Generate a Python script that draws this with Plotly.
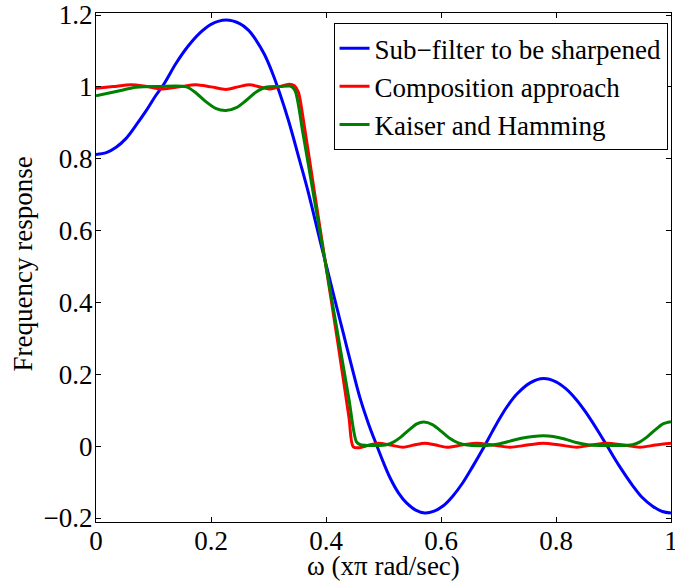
import plotly.graph_objects as go

# Blue: sub-filter to be sharpened
w_blue = [0.000, 0.018, 0.035, 0.052, 0.070, 0.087, 0.104, 0.119, 0.139, 0.160,
          0.180, 0.200, 0.226, 0.250, 0.265, 0.278, 0.293, 0.307, 0.320, 0.335,
          0.355, 0.368, 0.380, 0.390, 0.401, 0.415, 0.430, 0.445, 0.459, 0.474,
          0.488, 0.500, 0.512, 0.526, 0.540, 0.556, 0.572, 0.588, 0.604, 0.620,
          0.637, 0.655, 0.672, 0.688, 0.703, 0.718, 0.732, 0.755, 0.778, 0.800,
          0.817, 0.835, 0.852, 0.870, 0.888, 0.910, 0.933, 0.950, 0.968, 0.985,
          1.000]
h_blue = [0.812, 0.817, 0.832, 0.856, 0.894, 0.933, 0.976, 1.010, 1.065, 1.113,
          1.149, 1.174, 1.186, 1.176, 1.158, 1.131, 1.090, 1.038, 0.980, 0.905,
          0.790, 0.714, 0.636, 0.570, 0.500, 0.410, 0.315, 0.220, 0.135, 0.062,
          0.003, -0.046, -0.090, -0.130, -0.158, -0.178, -0.186, -0.181, -0.166, -0.140,
          -0.104, -0.057, -0.010, 0.037, 0.080, 0.117, 0.145, 0.176, 0.188, 0.179,
          0.160, 0.130, 0.094, 0.050, 0.003, -0.055, -0.109, -0.143, -0.167, -0.182,
          -0.186]

# Red: composition approach
w_red = [0.000, 0.030, 0.061, 0.088, 0.116, 0.145, 0.174, 0.200, 0.226, 0.247,
         0.267, 0.285, 0.301, 0.318, 0.336, 0.345, 0.352, 0.360, 0.380, 0.400,
         0.420, 0.440, 0.4475, 0.460, 0.475, 0.491, 0.512, 0.534, 0.553, 0.572,
         0.591, 0.610, 0.636, 0.662, 0.690, 0.720, 0.750, 0.778, 0.807, 0.836,
         0.862, 0.888, 0.917, 0.946, 0.973, 1.000]
h_red = [0.996, 1.001, 1.006, 1.001, 0.994, 1.000, 1.006, 1.000, 0.993, 1.000,
         1.006, 1.000, 0.994, 1.000, 1.007, 1.003, 0.985, 0.915, 0.706, 0.500,
         0.294, 0.080, -0.002, -0.004, 0.003, 0.008, 0.003, -0.003, 0.003, 0.008,
         0.003, -0.003, 0.003, 0.008, 0.003, -0.003, 0.003, 0.008, 0.003, -0.003,
         0.003, 0.008, 0.003, -0.003, 0.003, 0.008]

# Green: Kaiser and Hamming
w_green = [0.000, 0.035, 0.070, 0.110, 0.157, 0.174, 0.191, 0.208, 0.226, 0.244,
           0.261, 0.278, 0.295, 0.320, 0.338, 0.346, 0.360, 0.380, 0.400, 0.420,
           0.440, 0.453, 0.460, 0.475, 0.490, 0.505, 0.518, 0.530, 0.545, 0.558,
           0.570, 0.585, 0.600, 0.615, 0.630, 0.645, 0.680, 0.700, 0.720, 0.740,
           0.760, 0.778, 0.795, 0.815, 0.835, 0.855, 0.875, 0.900, 0.933, 0.946,
           0.958, 0.973, 0.986, 1.000]
h_green = [0.975, 0.987, 0.999, 1.001, 1.000, 0.983, 0.959, 0.940, 0.934, 0.942,
           0.962, 0.985, 0.999, 1.001, 1.002, 0.990, 0.870, 0.684, 0.500, 0.316,
           0.130, 0.012, 0.004, 0.002, 0.002, 0.004, 0.012, 0.025, 0.046, 0.062,
           0.067, 0.060, 0.042, 0.022, 0.009, 0.003, 0.002, 0.006, 0.014, 0.022,
           0.027, 0.029, 0.027, 0.020, 0.010, 0.004, 0.002, 0.002, 0.004, 0.012,
           0.025, 0.046, 0.062, 0.068]

x_ticks = [0, 0.2, 0.4, 0.6, 0.8, 1]
x_labels = ["0", "0.2", "0.4", "0.6", "0.8", "1"]
y_ticks = [-0.2, 0, 0.2, 0.4, 0.6, 0.8, 1, 1.2]
y_labels = ["\u22120.2", "0", "0.2", "0.4", "0.6", "0.8", "1", "1.2"]

FONT = "Liberation Serif"

fig = go.Figure()
fig.add_trace(go.Scatter(x=w_blue, y=h_blue, mode="lines", name="Sub\u2212filter to be sharpened",
                         line=dict(color="#0000ff", width=3, shape="spline", smoothing=1.0)))
fig.add_trace(go.Scatter(x=w_red, y=h_red, mode="lines", name="Composition approach",
                         line=dict(color="#ff0000", width=3, shape="spline", smoothing=0.8)))
fig.add_trace(go.Scatter(x=w_green, y=h_green, mode="lines", name="Kaiser and Hamming",
                         line=dict(color="#008000", width=3, shape="spline", smoothing=0.8)))

axis_common = dict(showline=True, linecolor="black", linewidth=1, mirror="allticks",
                   ticks="inside", ticklen=5, tickcolor="black", tickwidth=1,
                   showgrid=False, zeroline=False, ticklabeloverflow="allow",
                   automargin=False,
                   tickfont=dict(family=FONT, size=27, color="black"))

fig.update_layout(
    width=675, height=582,
    margin=dict(l=96, r=4, t=13, b=60, autoexpand=False),
    paper_bgcolor="white", plot_bgcolor="white",
    font=dict(family=FONT, size=27, color="black"),
    xaxis=dict(range=[0, 1], tickvals=x_ticks, ticktext=x_labels,
               ticklabelstandoff=-5, **axis_common),
    yaxis=dict(range=[-0.2111, 1.2056], tickvals=y_ticks, ticktext=y_labels,
               ticklabelstandoff=-3, **axis_common),
    legend=dict(x=0.994, y=0.98, xanchor="right", yanchor="top",
                bgcolor="white", bordercolor="black", borderwidth=1,
                font=dict(family=FONT, size=27, color="black"),
                tracegroupgap=0),
    showlegend=True,
    annotations=[
        dict(text="\u03c9 (x\u03c0 rad/sec)", xref="paper", yref="paper",
             x=0.5, y=-0.0864, xanchor="center", yanchor="middle", showarrow=False,
             font=dict(family=FONT, size=27, color="black")),
        dict(text="Frequency response", xref="paper", yref="paper",
             x=-0.127, y=0.508, xanchor="center", yanchor="middle", showarrow=False,
             textangle=-90, font=dict(family=FONT, size=27, color="black")),
    ],
)

fig.write_html("out.html")
